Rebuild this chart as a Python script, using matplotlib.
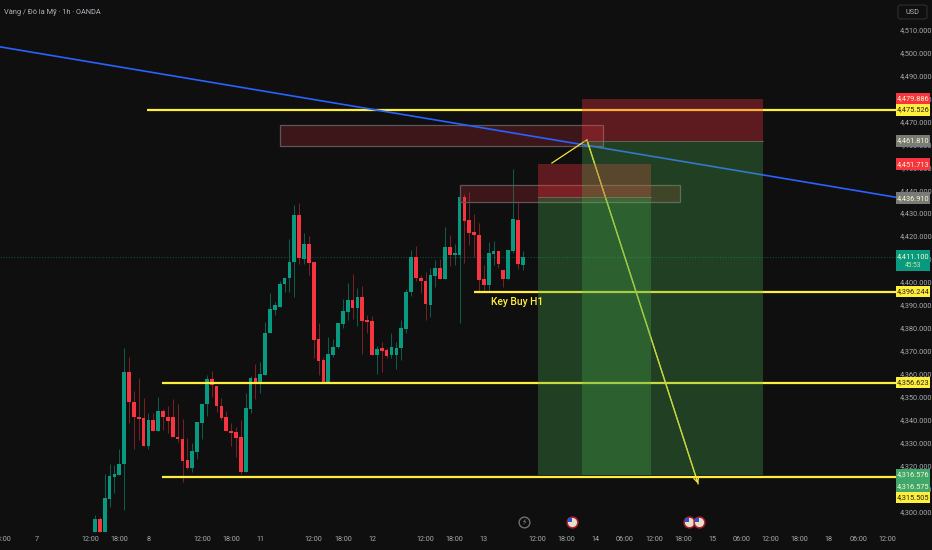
import matplotlib
matplotlib.use("Agg")
import matplotlib.pyplot as plt
from matplotlib.patches import Rectangle, FancyBboxPatch
from matplotlib.transforms import blended_transform_factory, Bbox

plt.rcParams['font.family'] = ['Roboto', 'DejaVu Sans']

# hourly candles, index 0 is the 13:00 bar on the 7th
opens = [4291.3, 4296.8, 4291.3, 4305.5, 4315.1, 4316.1, 4320.6, 4361.0, 4347.9, 4341.4,
         4340.8, 4328.6, 4339.9, 4335.0, 4343.7, 4341.2, 4341.2, 4332.7, 4331.8, 4322.4,
         4319.0, 4326.1, 4338.8, 4346.9, 4357.6, 4354.9, 4346.2, 4341.1, 4335.3, 4334.7,
         4332.4, 4317.4, 4344.7, 4358.1, 4355.9, 4359.5, 4377.6, 4387.9, 4389.0, 4399.0,
         4401.6, 4408.6, 4429.0, 4410.0, 4416.4, 4408.6, 4375.2, 4365.9, 4356.6, 4368.2,
         4371.9, 4381.7, 4386.9, 4392.0, 4388.7, 4393.5, 4383.5, 4383.2, 4368.4, 4371.3,
         4370.6, 4368.4, 4368.4, 4371.2, 4379.7, 4395.7, 4410.8, 4401.9, 4400.4, 4390.2,
         4402.7, 4406.1, 4401.1, 4415.4, 4411.6, 4411.9, 4436.9, 4427.0, 4421.8, 4420.6,
         4401.2, 4398.7, 4412.2, 4413.5, 4405.4, 4401.1, 4413.7, 4427.0, 4407.4]
highs = [4298.6, 4297.6, 4316.4, 4320.6, 4320.3, 4327.3, 4371.1, 4367.5, 4352.5, 4358.1,
         4349.4, 4342.8, 4342.8, 4349.8, 4344.7, 4346.0, 4348.9, 4346.9, 4340.2, 4331.9,
         4329.8, 4338.9, 4347.0, 4359.5, 4361.4, 4354.9, 4349.6, 4343.8, 4338.8, 4337.0,
         4339.9, 4351.5, 4359.1, 4364.3, 4365.0, 4382.7, 4395.0, 4391.4, 4400.6, 4401.9,
         4418.6, 4433.7, 4434.3, 4421.5, 4420.0, 4408.6, 4382.0, 4367.5, 4376.2, 4375.2,
         4382.0, 4392.6, 4399.5, 4403.6, 4397.5, 4398.4, 4385.5, 4385.2, 4372.2, 4373.8,
         4371.2, 4377.8, 4374.0, 4383.5, 4397.0, 4414.0, 4415.7, 4403.0, 4404.2, 4406.0,
         4409.6, 4410.1, 4423.8, 4420.5, 4416.4, 4436.9, 4438.3, 4439.2, 4429.5, 4425.9,
         4407.4, 4417.3, 4417.9, 4413.5, 4405.4, 4414.0, 4449.2, 4435.0, 4413.7]
lows = [4291.3, 4291.3, 4291.3, 4302.2, 4308.0, 4316.1, 4300.7, 4338.8, 4327.3, 4331.2,
        4328.6, 4327.4, 4335.0, 4335.0, 4335.6, 4334.1, 4332.4, 4330.5, 4313.1, 4318.6,
        4317.4, 4322.8, 4331.7, 4341.7, 4350.1, 4343.6, 4339.9, 4335.0, 4328.6, 4323.7,
        4316.3, 4317.4, 4342.8, 4348.9, 4351.5, 4359.5, 4377.6, 4385.6, 4389.0, 4395.8,
        4395.8, 4393.4, 4407.9, 4407.9, 4403.0, 4367.0, 4359.3, 4356.6, 4356.6, 4367.5,
        4371.4, 4380.1, 4383.5, 4383.9, 4381.0, 4368.8, 4378.0, 4368.4, 4360.0, 4361.0,
        4366.8, 4366.8, 4362.1, 4366.1, 4378.0, 4394.0, 4400.4, 4395.0, 4383.5, 4384.9,
        4398.0, 4401.1, 4401.1, 4407.1, 4407.4, 4382.0, 4408.2, 4416.1, 4410.8, 4395.8,
        4395.8, 4395.8, 4407.4, 4406.3, 4398.0, 4401.1, 4412.5, 4405.7, 4405.3]
closes = [4296.8, 4291.3, 4305.8, 4315.7, 4316.6, 4320.8, 4361.0, 4347.8, 4341.1, 4340.4,
          4328.6, 4339.9, 4335.0, 4343.7, 4341.2, 4339.5, 4332.4, 4331.5, 4322.1, 4319.0,
          4326.3, 4338.9, 4347.0, 4357.6, 4355.0, 4346.0, 4340.8, 4335.0, 4334.3, 4332.1,
          4317.4, 4345.0, 4358.1, 4355.9, 4359.8, 4377.9, 4388.1, 4389.9, 4399.3, 4401.9,
          4408.9, 4429.3, 4410.3, 4416.4, 4408.3, 4374.8, 4365.6, 4356.6, 4368.8, 4371.9,
          4382.0, 4387.2, 4392.0, 4388.7, 4393.5, 4383.2, 4382.6, 4368.4, 4371.0, 4370.0,
          4367.7, 4371.9, 4371.3, 4380.0, 4395.8, 4410.8, 4401.8, 4400.4, 4390.4, 4403.1,
          4406.1, 4401.1, 4415.4, 4411.9, 4412.5, 4436.9, 4426.7, 4421.4, 4420.5, 4400.9,
          4398.7, 4412.5, 4413.5, 4407.7, 4401.1, 4414.0, 4427.3, 4407.7, 4411.1]

price_ticks = [4510, 4500, 4490, 4480, 4470, 4460, 4450, 4440, 4430, 4420, 4410, 4400, 4390,
               4380, 4370, 4360, 4350, 4340, 4330, 4320, 4310, 4300]
time_ticks = [-19, -12, -1, 5, 11, 22, 28, 34, 45, 51, 57, 68, 74, 80, 91, 97, 103, 109, 115,
              121, 127, 133, 139, 145, 151, 157, 163]
time_labels = ['18:00', '7', '12:00', '18:00', '8', '12:00', '18:00', '11', '12:00', '18:00',
               '12', '12:00', '18:00', '13', '12:00', '18:00', '14', '06:00', '12:00', '18:00',
               '15', '06:00', '12:00', '18:00', '18', '06:00', '12:00']

# horizontal levels: price, first hour
level_prices = [4475.0, 4395.8, 4356.2, 4315.0]
level_starts = [10.7, 78, 13.8, 13.8]

trend_hours = [-19.55, 164.8]
trend_prices = [4502.4, 4436.9]

# short positions: start, end, stop, entry, target
pos_a = [91.2, 114.4, 4451.3, 4436.8, 4316.0]
pos_b = [100.2, 137.4, 4479.5, 4461.2, 4316.0]

# supply boxes: start, end, low, high
box_a = [38.1, 104.5, 4459.2, 4468.3]
box_b = [75.1, 120.4, 4434.8, 4442.2]

path_hours = [94, 101.2, 124.1]
path_prices = [4451.8, 4461.9, 4312.1]

tag_labels = ['4,479.886', '4,475.526', '4,461.810', '4,451.713', '4,436.910', '4,396.244',
              '4,356.623', '4,316.576', '4,316.575', '4,315.505']
tag_prices = [4480.0, 4475.0, 4461.4, 4451.3, 4436.5, 4395.8, 4356.2, 4316.2, 4311.1, 4306.1]
tag_kinds = ['red', 'yellow', 'grey', 'red', 'grey', 'yellow', 'yellow', 'mint', 'mint', 'yellow']

flag_hours = [98.1, 122.2, 124.3]

BG = '#0f0f0f'
GREEN = '#089981'
RED = '#f7343f'
YELLOW = '#ffee3a'
TICK = '#a8aab0'
tag_colors = {'red': RED, 'yellow': YELLOW, 'grey': '#787b78', 'mint': '#3fa76c'}

fig = plt.figure(figsize=(9.32, 5.5), dpi=100, facecolor=BG)
ax = fig.add_axes([0, 17 / 550, 896 / 932, 533 / 550], facecolor=BG)
ax.set_xlim(-19.55, 164.8)
ax.set_ylim(4290.7, 4522.8)
for s in ax.spines.values():
    s.set_visible(False)

ax.axhline(closes[-1], color='#0b4f42', lw=0.8, ls=(0, (1, 1.5)), zorder=1)

for i in range(len(opens)):
    up = closes[i] >= opens[i]
    ax.plot([i, i], [lows[i], highs[i]], color='#0b5f50' if up else '#7d2128', lw=0.7, zorder=2,
            solid_capstyle='butt')
    ax.add_patch(Rectangle((i - 0.38, min(opens[i], closes[i])), 0.76, abs(closes[i] - opens[i]),
                           fc=GREEN if up else RED, lw=0, zorder=3))

for box in [box_a, box_b]:
    ax.add_patch(Rectangle((box[0], box[2]), box[1] - box[0], box[3] - box[2], fc='#f23645', ec='none',
                           alpha=0.2, zorder=4))
    ax.add_patch(Rectangle((box[0], box[2]), box[1] - box[0], box[3] - box[2], fill=False, ec='#5f5757',
                           lw=0.9, zorder=4))

for p, st in zip(level_prices, level_starts):
    ax.plot([st, 164.8], [p, p], color=YELLOW, lw=1.6, zorder=5, solid_capstyle='butt')

ax.plot(trend_hours, trend_prices, color='#2962ff', lw=1.2, zorder=5)

ax.plot(path_hours, path_prices, color='#f8e43c', lw=0.9, zorder=5)
ax.annotate('', xy=(path_hours[2], path_prices[2]), xytext=(path_hours[1], path_prices[1]),
            arrowprops=dict(arrowstyle='->', color='#f8e43c', lw=0.9, mutation_scale=9,
                            shrinkA=0, shrinkB=0), zorder=5)

# position tools lie over the lines, the yellow turns orange under the red
for pos in [pos_a, pos_b]:
    w = pos[1] - pos[0]
    ax.add_patch(Rectangle((pos[0], pos[3]), w, pos[2] - pos[3], fc=RED, alpha=0.34, lw=0, zorder=6))
    ax.add_patch(Rectangle((pos[0], pos[4]), w, pos[3] - pos[4], fc='#4caf50', alpha=0.3, lw=0, zorder=6))
    ax.plot([pos[0], pos[1]], [pos[3], pos[3]], color='#777777', lw=0.7, alpha=0.7, zorder=6)

ax.text(81.5, 4391.3, 'Key Buy H1', color=YELLOW, fontsize=7.4, fontweight='medium', va='center',
        ha='left', zorder=7)
ax.text(4 / 896, 1 - 12 / 533, 'Vàng / Đô la Mỹ · 1h · OANDA', color='#b2b5be', fontsize=5.3,
        va='center', ha='left', transform=ax.transAxes)

# axes
ax.yaxis.tick_right()
ax.set_yticks(price_ticks)
ax.set_yticklabels(['{:,.3f}'.format(p) for p in price_ticks])
ax.set_xticks(time_ticks)
ax.set_xticklabels(time_labels)
ax.tick_params(axis='y', length=0, pad=2.6, labelsize=5.3, labelcolor=TICK)
ax.tick_params(axis='x', length=0, pad=2.5, labelsize=5.2, labelcolor=TICK)
clip = Bbox([[0, 0], [896, 550]])
for lab in ax.get_xticklabels():
    lab.set_clip_box(clip)
    lab.set_clip_on(True)

# price tags on the scale
tr = blended_transform_factory(ax.transAxes, ax.transData)
tag_w = 33.5 / 896
for label, p, kind in zip(tag_labels, tag_prices, tag_kinds):
    ax.add_patch(Rectangle((1, p - 2.5), tag_w, 5, transform=tr, fc=tag_colors[kind], lw=0, clip_on=False, zorder=8))
    ax.text(1 + tag_w / 2, p, label, transform=tr, ha='center', va='center', fontsize=5.3,
            color='#222222' if kind == 'yellow' else '#fff8c8', clip_on=False, zorder=9)

# last price tag
ax.add_patch(Rectangle((1, closes[-1] - 6.4), tag_w, 9.2, transform=tr, fc=GREEN, lw=0, clip_on=False, zorder=8))
ax.text(1 + tag_w / 2, closes[-1], '4,411.100', transform=tr, ha='center', va='center', fontsize=5.3,
        color='#fff8c8', clip_on=False, zorder=9)
ax.text(1 + tag_w / 2, closes[-1] - 4, '45:53', transform=tr, ha='center', va='center', fontsize=4.8,
        color='#cfe8a0', clip_on=False, zorder=9)

# currency button
fig.add_artist(FancyBboxPatch((898 / 932, 1 - 19 / 550), 29 / 932, 14 / 550, transform=fig.transFigure,
                              boxstyle='round,pad=0,rounding_size=0.004', fc=BG, ec='#2e2e32', lw=0.8))
fig.text(912.5 / 932, 1 - 12 / 550, 'USD', color='#b2b5be', fontsize=5.2, ha='center', va='center')

# event markers along the bottom
ev_y = [4295.5] * len(flag_hours)
ax.scatter(flag_hours, ev_y, s=60, fc='#e9dcc8', ec='#a81f2d', lw=1.1, zorder=6)
ax.scatter([h - 0.35 for h in flag_hours], [4296.4] * len(flag_hours), s=8, marker='s', fc='#2d55c8', lw=0, zorder=7)
ax.scatter([88.3], [4295.5], s=60, fc=BG, ec='#77777a', lw=0.9, zorder=6)
ax.text(88.3, 4295.5, '\u26a1', color='#8a8a8d', fontsize=5.5, ha='center', va='center',
        family='DejaVu Sans', zorder=7)

fig.savefig('out.png', dpi=100, facecolor=BG)
